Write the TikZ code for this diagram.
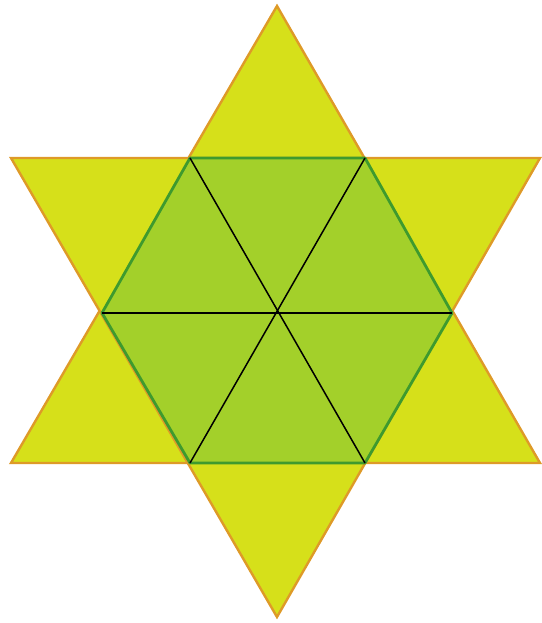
\documentclass[tikz,border=0pt]{standalone}
\definecolor{staryellow}{HTML}{D6E01A}
\definecolor{starorange}{HTML}{DE9A28}
\definecolor{hexgreen}{HTML}{A3D02A}
\definecolor{hexedge}{HTML}{3E9A2E}
\begin{document}
\begin{tikzpicture}[x=1pt,y=1pt,
  startri/.style={fill=staryellow,draw=starorange,line width=2.4pt,line join=miter},
  hexshape/.style={fill=hexgreen,draw=hexedge,line width=2.8pt,line join=round},
  spoke/.style={draw=black,line width=1.5pt}]
\useasboundingbox (0,0) rectangle (541,623);
% star points (y = 623 - pixel y)
\coordinate (T) at (277,617);
\coordinate (B) at (277,6);
\coordinate (UL) at (11,465);
\coordinate (UR) at (540,465);
\coordinate (LL) at (11,160);
\coordinate (LR) at (540,160);
% hexagon
\coordinate (H1) at (190,465);
\coordinate (H2) at (365,465);
\coordinate (H3) at (452,310);
\coordinate (H4) at (365,160);
\coordinate (H5) at (190,160);
\coordinate (H6) at (102,310);
\coordinate (C) at (277,310);
\path[startri] (T) -- (LR) -- (LL) -- cycle;
\path[startri] (B) -- (UR) -- (UL) -- cycle;
\fill[staryellow] (H1) -- (H2) -- (H3) -- (H4) -- (H5) -- (H6) -- cycle;
\path[hexshape] (H1) -- (H2) -- (H3) -- (H4) -- (H5) -- (H6) -- cycle;
\path[spoke] (H1) -- (H4);
\path[spoke] (H2) -- (H5);
\path[spoke] (H3) -- (H6);
\end{tikzpicture}
\end{document}
